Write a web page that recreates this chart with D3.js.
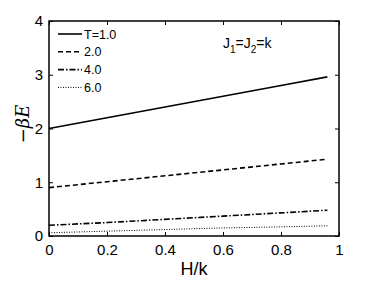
<!DOCTYPE html>
<html>
<head>
<meta charset="utf-8">
<script src="https://cdn.jsdelivr.net/npm/d3@7"></script>
<style>
  body { margin: 0; background: #fff; }
  svg { display: block; font-family: "Liberation Sans", Arial, sans-serif; }
</style>
</head>
<body>
<svg id="chart" width="374" height="281"></svg>
<script>
// H/k sample points
var hValues = [0, 0.2, 0.4, 0.6, 0.8, 0.96];

// -beta*E for each temperature
var seriesT1 = [2.00, 2.20, 2.40, 2.60, 2.80, 2.96];
var seriesT2 = [0.90, 1.01, 1.12, 1.23, 1.34, 1.43];
var seriesT4 = [0.20, 0.25, 0.31, 0.37, 0.43, 0.48];
var seriesT6 = [0.06, 0.09, 0.12, 0.15, 0.17, 0.19];

var legendLabels = ["T=1.0", "2.0", "4.0", "6.0"];
var dashStyles = [null, "5,3", "6,2,1.5,2", "1,1.5"];
var xTicks = [0, 0.2, 0.4, 0.6, 0.8, 1];
var yTicks = [0, 1, 2, 3, 4];

var margin = {left: 49, right: 35, top: 21, bottom: 45};
var width = 374, height = 281;

var svg = d3.select("#chart");

var x = d3.scaleLinear().domain([0, 1]).range([margin.left, width - margin.right]);
var y = d3.scaleLinear().domain([0, 4]).range([height - margin.bottom, margin.top]);

var series = [seriesT1, seriesT2, seriesT4, seriesT6];

var line = d3.line()
  .x(function(d, i) { return x(hValues[i]); })
  .y(function(d) { return y(d); });

svg.selectAll(".series")
  .data(series)
  .enter().append("path")
    .attr("class", "series")
    .attr("d", line)
    .attr("fill", "none")
    .attr("stroke", "#000")
    .attr("stroke-width", function(d, i) { return i === 3 ? 1 : 1.6; })
    .attr("stroke-dasharray", function(d, i) { return dashStyles[i]; });

// axes with inward ticks, mirrored on top/right
function styleAxis(g) {
  g.select(".domain").remove();
  g.selectAll("line").attr("stroke", "#000");
  g.selectAll("text").attr("font-size", 15).attr("fill", "#000");
}

svg.append("g")
  .attr("transform", "translate(0," + y(0) + ")")
  .call(d3.axisBottom(x).tickValues(xTicks).tickSize(-4).tickPadding(8)
    .tickFormat(function(d) { return d === 0 || d === 1 ? d : d.toFixed(1); }))
  .call(styleAxis);

svg.append("g")
  .attr("transform", "translate(0," + y(4) + ")")
  .call(d3.axisTop(x).tickValues(xTicks).tickSize(-4).tickFormat(""))
  .call(styleAxis);

svg.append("g")
  .attr("transform", "translate(" + x(0) + ",0)")
  .call(d3.axisLeft(y).tickValues(yTicks).tickSize(-4).tickPadding(6).tickFormat(d3.format("d")))
  .call(styleAxis);

svg.append("g")
  .attr("transform", "translate(" + x(1) + ",0)")
  .call(d3.axisRight(y).tickValues(yTicks).tickSize(-4).tickFormat(""))
  .call(styleAxis);

svg.append("rect")
  .attr("x", x(0)).attr("y", y(4))
  .attr("width", x(1) - x(0)).attr("height", y(0) - y(4))
  .attr("fill", "none").attr("stroke", "#000").attr("stroke-width", 1.5);

// legend
var legend = svg.selectAll(".legend")
  .data(legendLabels)
  .enter().append("g")
    .attr("class", "legend")
    .attr("transform", function(d, i) { return "translate(58," + (34 + i * 17.8) + ")"; });

legend.append("line")
  .attr("x1", 0).attr("x2", 24)
  .attr("stroke", "#000")
  .attr("stroke-width", function(d, i) { return i === 3 ? 1 : 1.6; })
  .attr("stroke-dasharray", function(d, i) { return dashStyles[i]; });

legend.append("text")
  .attr("x", 26).attr("y", 4.5)
  .attr("font-size", 12.5)
  .text(function(d) { return d; });

// annotation J1=J2=k
var ann = svg.append("text")
  .attr("x", 223).attr("y", 48)
  .attr("font-size", 14);
ann.append("tspan").text("J");
ann.append("tspan").attr("dy", 5).attr("font-size", 10).text("1");
ann.append("tspan").attr("dy", -5).text("=J");
ann.append("tspan").attr("dy", 5).attr("font-size", 10).text("2");
ann.append("tspan").attr("dy", -5).text("=k");

// axis labels
svg.append("text")
  .attr("x", 194).attr("y", 275)
  .attr("text-anchor", "middle")
  .attr("font-size", 18)
  .text("H/k");

svg.append("text")
  .attr("transform", "translate(29," + 124 + ") rotate(-90)")
  .attr("text-anchor", "middle")
  .attr("font-family", "'DejaVu Serif', 'Liberation Serif', serif")
  .attr("font-style", "italic")
  .attr("font-size", 18)
  .text("\u2212\u03B2E");
</script>
</body>
</html>
